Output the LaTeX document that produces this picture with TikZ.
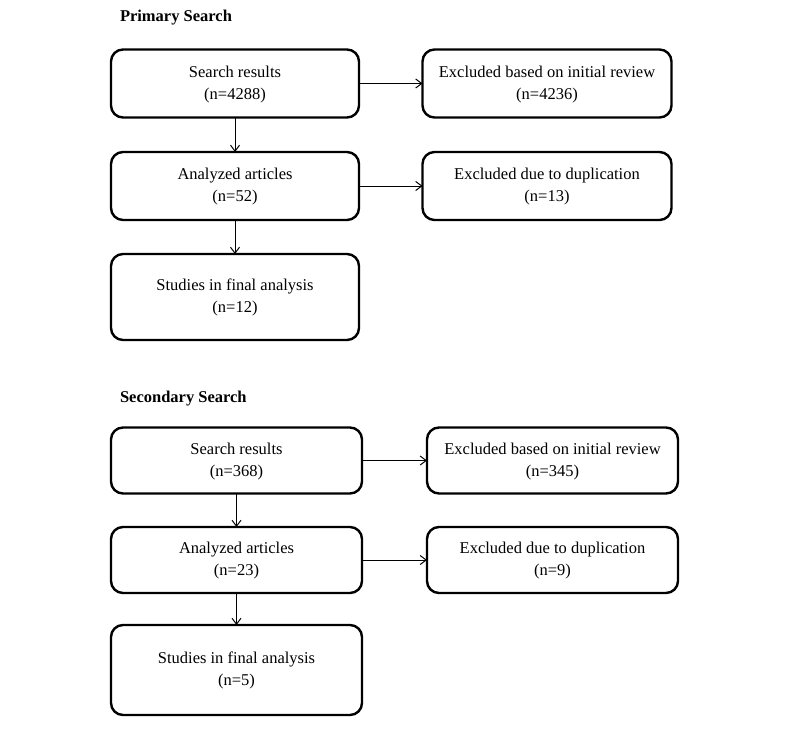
\documentclass[tikz,border=0pt]{standalone}
\usepackage{fontspec}
\setmainfont{Liberation Serif}
\usetikzlibrary{arrows.meta}
\begin{document}
\begin{tikzpicture}[x=1pt,y=-1pt,inner sep=0pt,outer sep=0pt,
>={Straight Barb[length=6pt,width=9pt]},
flowbox/.style={draw,rectangle,rounded corners=12pt,line width=2.4pt,align=center,
  text depth=2pt,font=\fontsize{16.5}{22}\selectfont},
title/.style={anchor=base west,font=\fontsize{16.5}{20}\selectfont\bfseries},
link/.style={->,line width=1pt}]
\useasboundingbox (0,0) rectangle (800,731);
% primary search
\draw (120,21) node[title] (ttl1) {Primary Search};
\draw (235,83.5) node[flowbox,minimum width=248pt,minimum height=68pt] (sr1) {Search results\\(n=4288)};
\draw (547,83.5) node[flowbox,minimum width=249pt,minimum height=68pt] (ex1) {Excluded based on initial review\\(n=4236)};
\draw (235,186) node[flowbox,minimum width=248pt,minimum height=68pt] (an1) {Analyzed articles\\(n=52)};
\draw (547,186) node[flowbox,minimum width=249pt,minimum height=68pt] (dup1) {Excluded due to duplication\\(n=13)};
\draw (235,297) node[flowbox,minimum width=248pt,minimum height=86pt] (fin1) {Studies in final analysis\\(n=12)};
\draw[link] (sr1) -- (ex1);
\draw[link] (sr1) -- (an1);
\draw[link] (an1) -- (dup1);
\draw[link] (an1) -- (fin1);
% secondary search
\draw (120,402) node[title] (ttl2) {Secondary Search};
\draw (236.5,460.5) node[flowbox,minimum width=251pt,minimum height=66pt] (sr2) {Search results\\(n=368)};
\draw (552.5,460.5) node[flowbox,minimum width=251pt,minimum height=66pt] (ex2) {Excluded based on initial review\\(n=345)};
\draw (236.5,560) node[flowbox,minimum width=251pt,minimum height=66pt] (an2) {Analyzed articles\\(n=23)};
\draw (552.5,560) node[flowbox,minimum width=251pt,minimum height=66pt] (dup2) {Excluded due to duplication\\(n=9)};
\draw (236.5,670) node[flowbox,minimum width=251pt,minimum height=90pt] (fin2) {Studies in final analysis\\(n=5)};
\draw[link] (sr2) -- (ex2);
\draw[link] (sr2) -- (an2);
\draw[link] (an2) -- (dup2);
\draw[link] (an2) -- (fin2);
\end{tikzpicture}
\end{document}
